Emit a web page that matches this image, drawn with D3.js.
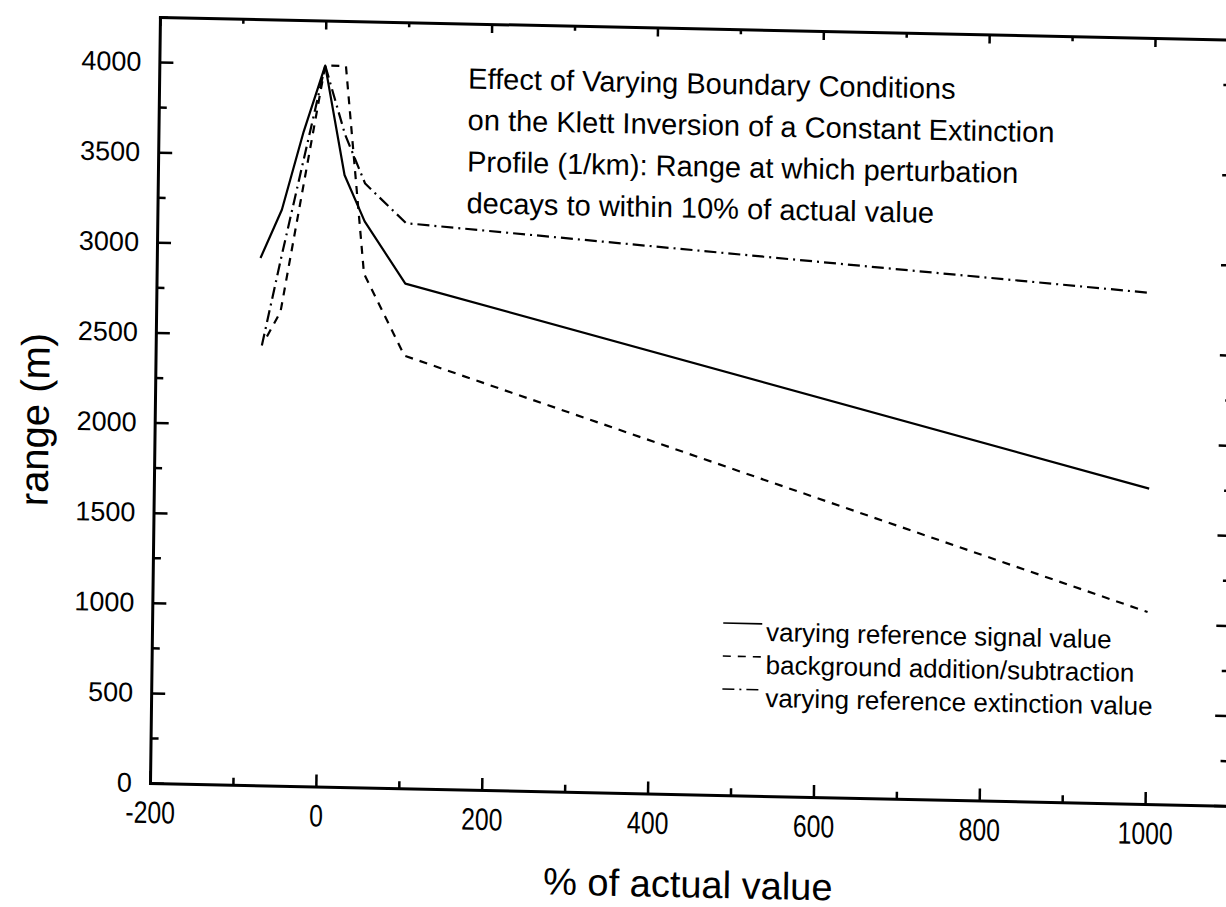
<!DOCTYPE html>
<html>
<head>
<meta charset="utf-8">
<script src="https://cdn.jsdelivr.net/npm/d3@7"></script>
<style>
body { margin: 0; background: #fff; }
svg { display: block; }
.axis path, .axis line { stroke: #000; }
.axis text { fill: #000; }
</style>
</head>
<body>
<svg id="chart" width="1226" height="907"></svg>
<script>
// values
const signalPct = [-75, -50, -25, 0, 25, 50, 100, 1000];
const signalRange = [2925, 3195, 3630, 4000, 3395, 3140, 2800, 1750];

const backgroundPct = [-66, -50, 0, 25, 50, 100, 1000];
const backgroundRange = [2490, 2630, 4000, 4000, 2850, 2400, 1065];

const extinctionPct = [-72, -50, 0, 25, 50, 100, 1000];
const extinctionRange = [2440, 2930, 4000, 3620, 3350, 3135, 2835];

const xTickValues = [-200, 0, 200, 400, 600, 800, 1000];
const xMinorValues = [-100, 100, 300, 500, 700, 900, 1100];
const yTickValues = [0, 500, 1000, 1500, 2000, 2500, 3000, 3500, 4000];
const yMinorValues = [250, 750, 1250, 1750, 2250, 2750, 3250, 3750, 4250];

const titleLines = [
    "Effect of Varying Boundary Conditions",
    "on the Klett Inversion of a Constant Extinction",
    "Profile (1/km): Range at which perturbation",
    "decays to within 10% of actual value"
];
const legendItems = [
    { name: "varying reference signal value", dash: null },
    { name: "background addition/subtraction", dash: "8,7" },
    { name: "varying reference extinction value", dash: "12,5,2,5" }
];

const svg = d3.select("#chart");

// the scan is slightly skewed, so the whole plot sits in a sheared frame
const g = svg.append("g")
    .attr("transform", "matrix(1,0.0211,-0.013,1,150,783)");

const x = d3.scaleLinear().domain([-200, 1100]).range([0, 1078]);
const y = d3.scaleLinear().domain([0, 4250]).range([0, -766]);

const sans = "'Liberation Sans', Arial, sans-serif";
const plain = d => String(d);

// bottom axis
const bottom = g.append("g").attr("class", "axis")
    .call(d3.axisBottom(x).tickValues(xTickValues).tickSize(-12).tickSizeOuter(0)
        .tickPadding(18).tickFormat(plain));
bottom.selectAll("text")
    .style("font-family", sans).style("font-size", "31px")
    .attr("transform", "scale(0.8,1)");
g.append("g").attr("class", "axis")
    .call(d3.axisBottom(x).tickValues(xMinorValues).tickSize(-7).tickSizeOuter(0).tickFormat(""))
    .select(".domain").remove();

// left axis
const left = g.append("g").attr("class", "axis")
    .call(d3.axisLeft(y).tickValues(yTickValues).tickSize(-14).tickSizeOuter(0)
        .tickPadding(18).tickFormat(plain));
left.selectAll("text").style("font-family", sans).style("font-size", "27px");
g.append("g").attr("class", "axis")
    .call(d3.axisLeft(y).tickValues(yMinorValues).tickSize(-8).tickSizeOuter(0).tickFormat(""))
    .select(".domain").remove();

// top axis, ticks only
g.append("g").attr("class", "axis")
    .attr("transform", `translate(0,${y(4250)})`)
    .call(d3.axisTop(x).tickValues(xTickValues).tickSize(-9).tickSizeOuter(0).tickFormat(""));
g.append("g").attr("class", "axis")
    .attr("transform", `translate(0,${y(4250)})`)
    .call(d3.axisTop(x).tickValues(xMinorValues).tickSize(-5).tickSizeOuter(0).tickFormat(""))
    .select(".domain").remove();

// right axis, ticks only
g.append("g").attr("class", "axis")
    .attr("transform", `translate(${x(1100)},0)`)
    .call(d3.axisRight(y).tickValues(yTickValues).tickSize(-14).tickSizeOuter(0).tickFormat(""));
g.append("g").attr("class", "axis")
    .attr("transform", `translate(${x(1100)},0)`)
    .call(d3.axisRight(y).tickValues(yMinorValues).tickSize(-8).tickSizeOuter(0).tickFormat(""))
    .select(".domain").remove();

g.selectAll(".axis .domain").attr("stroke-width", 3).attr("stroke-linecap", "square");
g.selectAll(".axis .tick line").attr("stroke-width", 2.5);

// data lines
const line = d3.line().x(d => x(d[0])).y(d => y(d[1]));
const series = [
    { pts: d3.zip(signalPct, signalRange), dash: legendItems[0].dash },
    { pts: d3.zip(backgroundPct, backgroundRange), dash: legendItems[1].dash },
    { pts: d3.zip(extinctionPct, extinctionRange), dash: legendItems[2].dash }
];
g.selectAll(".series")
    .data(series)
    .join("path")
    .attr("class", "series")
    .attr("d", d => line(d.pts))
    .attr("fill", "none")
    .attr("stroke", "#000")
    .attr("stroke-width", 2.2)
    .attr("stroke-linejoin", "round")
    .attr("stroke-dasharray", d => d.dash);

// title block
g.append("text")
    .attr("font-family", sans)
    .attr("font-size", 29)
    .selectAll("tspan")
    .data(titleLines)
    .join("tspan")
    .attr("x", 309)
    .attr("y", (d, i) => -701 + i * 41.5)
    .text(d => d);

// legend
const legend = g.append("g").attr("transform", "translate(571,-172)");
const rows = legend.selectAll("g")
    .data(legendItems)
    .join("g")
    .attr("transform", (d, i) => `translate(0,${i * 33})`);
rows.append("line")
    .attr("x1", 0).attr("x2", 39)
    .attr("stroke", "#000").attr("stroke-width", 1.6)
    .attr("stroke-dasharray", d => d.dash);
rows.append("text")
    .attr("x", 43).attr("y", 17)
    .attr("font-family", sans)
    .attr("font-size", 26)
    .text(d => d.name);

// axis titles
g.append("text")
    .attr("x", 539).attr("y", 103)
    .attr("text-anchor", "middle")
    .attr("font-family", sans)
    .attr("font-size", 38)
    .text("% of actual value");

g.append("text")
    .attr("transform", "translate(-106,-361) rotate(-90)")
    .attr("text-anchor", "middle")
    .attr("font-family", sans)
    .attr("font-size", 40)
    .text("range (m)");
</script>
</body>
</html>
